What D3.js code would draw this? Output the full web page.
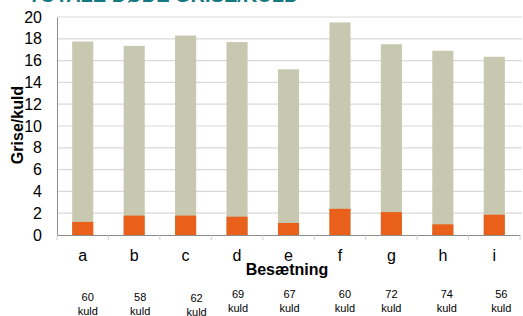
<!DOCTYPE html>
<html lang="da">
<head>
<meta charset="UTF-8">
<title>Grise/kuld</title>
<script src="https://d3js.org/d3.v7.min.js"></script>
<style>
  body { margin: 0; background: #fff; }
  svg { display: block; font-family: "Liberation Sans", Arial, sans-serif; }
</style>
</head>
<body>
<svg id="chart" width="523" height="316"></svg>
<script>
// data
const herds = ["a", "b", "c", "d", "e", "f", "g", "h", "i"];
const totalPerLitter = [17.75, 17.35, 18.3, 17.7, 15.2, 19.5, 17.5, 16.9, 16.35];
const deadPerLitter = [1.2, 1.78, 1.78, 1.68, 1.1, 2.4, 2.1, 0.98, 1.86];
const litters = [60, 58, 62, 69, 67, 60, 72, 74, 56];
const yTicks = [0, 2, 4, 6, 8, 10, 12, 14, 16, 18, 20];

// small nudges of the litter notes, as in the original slide
const noteDx = [5, 6, 11, 1, 1, 5, 0, 4, 7];
const noteDy = [3, 3, 4, 0, 0, 0, 0, 0, 0];

const m = {left: 57, right: 520, top: 17, bottom: 235};

const svg = d3.select("#chart");

const x = d3.scaleBand()
    .domain(herds)
    .range([m.left, m.right])
    .paddingInner(0.59)
    .paddingOuter(0.295);

const y = d3.scaleLinear()
    .domain([0, 20])
    .range([m.bottom, m.top]);

// title, cut by the top edge
svg.append("text")
    .attr("x", 28)
    .attr("y", 2)
    .attr("fill", "#157880")
    .attr("font-size", 20)
    .attr("font-weight", "bold")
    .text("TOTALE DØDE GRISE/KULD");

// gridlines
svg.append("g")
  .selectAll("line")
  .data(yTicks.filter(d => d > 0))
  .join("line")
    .attr("x1", m.left)
    .attr("x2", 522)
    .attr("y1", d => y(d))
    .attr("y2", d => y(d))
    .attr("stroke", "#d9d9d9")
    .attr("stroke-width", 1.2);

// y axis
const yAxis = svg.append("g")
    .attr("transform", `translate(${m.left},0)`)
    .call(d3.axisLeft(y).tickValues(yTicks).tickSize(0).tickPadding(15));
yAxis.select(".domain").attr("stroke", "#8c8c8c");
yAxis.selectAll("text")
    .attr("font-size", 16)
    .attr("fill", "#000")
    .attr("font-family", "Liberation Sans, Arial, sans-serif");

svg.append("text")
    .attr("transform", "translate(23,125) rotate(-90)")
    .attr("text-anchor", "middle")
    .attr("font-size", 16)
    .attr("font-weight", "bold")
    .text("Grise/kuld");

// bars: grey total, orange part at the bottom
const bars = svg.append("g");
bars.selectAll("rect.tot")
  .data(herds)
  .join("rect")
    .attr("class", "tot")
    .attr("x", d => x(d))
    .attr("width", x.bandwidth())
    .attr("y", (d, i) => y(totalPerLitter[i]))
    .attr("height", (d, i) => y(0) - y(totalPerLitter[i]))
    .attr("fill", "#c8c7b0");

bars.selectAll("rect.dead")
  .data(herds)
  .join("rect")
    .attr("class", "dead")
    .attr("x", d => x(d))
    .attr("width", x.bandwidth())
    .attr("y", (d, i) => y(deadPerLitter[i]))
    .attr("height", (d, i) => y(0) - y(deadPerLitter[i]))
    .attr("fill", "#e8601a");

// x axis
const xAxis = svg.append("g")
    .attr("transform", `translate(0,${m.bottom})`)
    .call(d3.axisBottom(x).tickSize(0).tickPadding(15));
xAxis.select(".domain").attr("stroke", "#8c8c8c").attr("stroke-width", 1.2);
xAxis.selectAll("text")
    .attr("font-size", 16)
    .attr("fill", "#000")
    .attr("font-family", "Liberation Sans, Arial, sans-serif");

// category separators below the axis
const step = x.step();
svg.append("g")
  .selectAll("line")
  .data(d3.range(herds.length + 1))
  .join("line")
    .attr("x1", i => m.left + i * step)
    .attr("x2", i => m.left + i * step)
    .attr("y1", m.bottom)
    .attr("y2", m.bottom + 5)
    .attr("stroke", "#d0d0d0");

svg.append("text")
    .attr("x", 287)
    .attr("y", 275)
    .attr("text-anchor", "middle")
    .attr("font-size", 16)
    .attr("font-weight", "bold")
    .text("Besætning");

// litter counts
const notes = svg.append("g")
    .attr("font-size", 11)
    .attr("text-anchor", "middle");
herds.forEach((h, i) => {
  const cx = x(h) + x.bandwidth() / 2 + noteDx[i];
  const t = notes.append("text")
      .attr("transform", `translate(${cx},${298 + noteDy[i]})`);
  t.append("tspan").attr("x", 0).attr("y", 0).text(litters[i]);
  t.append("tspan").attr("x", 0).attr("y", 14).text("kuld");
});
</script>
</body>
</html>
